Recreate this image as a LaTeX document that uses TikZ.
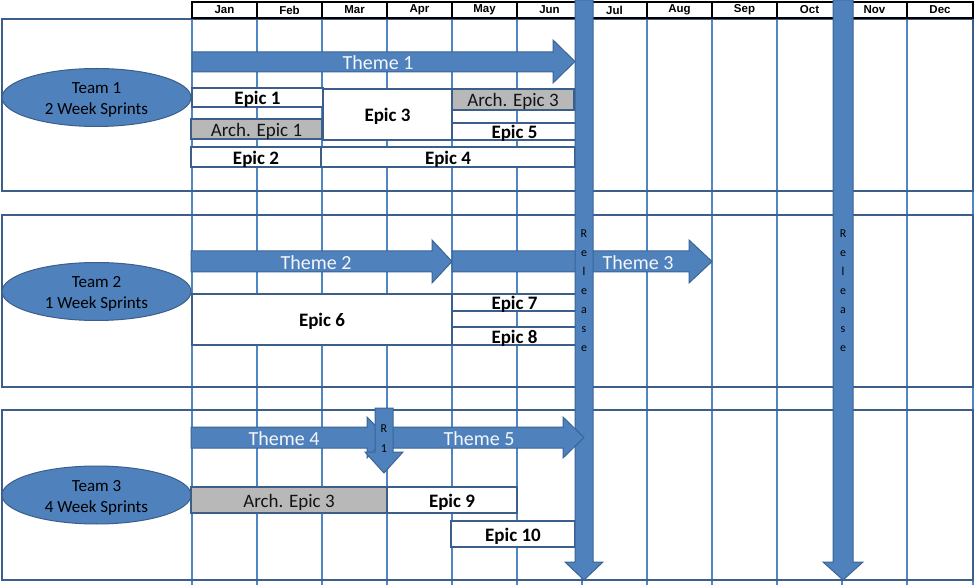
\documentclass[tikz,border=0pt]{standalone}
\usepackage{fontspec}
\setmainfont{Carlito}
\newfontfamily\hdrfont{Liberation Sans}
\usetikzlibrary{shapes.geometric}
\definecolor{fillblue}{HTML}{4F81BD}
\definecolor{arrowedge}{HTML}{3A6595}
\definecolor{frameblue}{HTML}{3B5F8A}
\definecolor{gridblue}{HTML}{4F86C6}
\definecolor{archgray}{HTML}{B8B8B8}
\definecolor{themewhite}{HTML}{F4F6FA}
\begin{document}
\begin{tikzpicture}[x=1pt,y=-1pt,
  gridline/.style={draw=gridblue, line width=1.4pt},
  teamframe/.style={draw=frameblue, line width=2pt},
  teamell/.style={ellipse, draw=frameblue, fill=fillblue, line width=1pt, minimum width=189pt, minimum height=58pt, inner sep=0pt},
  teamlbl/.style={inner sep=0pt, align=center, yshift=-2.5pt, font=\fontsize{17}{21}\selectfont},
  epicbox/.style={draw=frameblue, line width=1.8pt, fill=white},
  archbox/.style={draw=frameblue, line width=1.8pt, fill=archgray},
  epictext/.style={inner sep=0pt, yshift=-2pt, font=\fontsize{19}{20}\selectfont\bfseries},
  archtext/.style={inner sep=0pt, yshift=-2pt, text=black!92, font=\fontsize{19}{20}\selectfont},
  arrowshape/.style={fill=fillblue, draw=arrowedge, line width=1pt, line join=miter},
  themetext/.style={inner sep=0pt, yshift=-1pt, text=themewhite, font=\fontsize{20}{22}\selectfont},
  reltext/.style={inner sep=0pt, align=center, font=\fontsize{12}{19}\selectfont},
  monthbox/.style={draw=black, line width=2pt, fill=white},
  monthtext/.style={inner sep=0pt, font=\hdrfont\bfseries\fontsize{11.5}{12}\selectfont}
]
\useasboundingbox (0,0) rectangle (975,585);
\fill[white] (0,0) rectangle (975,585);

% vertical grid lines
\foreach \x in {192,257,322,387,452,517,582,647,712,777,842,907,973}
  \draw[gridline] (\x,18) -- (\x,585);

% team frames
\draw[teamframe] (2,19) rectangle (973,191);
\draw[teamframe] (2,215) rectangle (973,387);
\draw[teamframe] (2,410) rectangle (973,580);

% month header
\foreach \a/\b/\m in {192/257/Jan,257/322/Feb,322/387/Mar,387/452/Apr,452/517/May,517/582/Jun,582/647/Jul,647/712/Aug,712/777/Sep,777/842/Oct,842/907/Nov,907/973/Dec}
  \draw[monthbox] (\a,2) rectangle (\b,18) node[midway,monthtext](m\m){\m};

% team ellipses
\node[teamell, label={[teamlbl]center:Team 1\\2 Week Sprints}] (t1) at (96.5,97.5) {};
\node[teamell, label={[teamlbl]center:Team 2\\1 Week Sprints}] (t2) at (96.5,291.5) {};
\node[teamell, label={[teamlbl]center:Team 3\\4 Week Sprints}] (t3) at (96.5,495) {};

% Team 1 epics
\draw[epicbox] (192,88) rectangle (323,107) node[midway,epictext](e1){Epic 1};
\draw[epicbox] (323,89) rectangle (452,140) node[midway,epictext](e3){Epic 3};
\draw[archbox] (452,89) rectangle (574,110) node[midway,archtext](a3a){Arch. Epic 3};
\draw[archbox] (191,119) rectangle (322,139) node[midway,archtext](a1){Arch. Epic 1};
\draw[epicbox] (452,123) rectangle (577,140) node[midway,epictext](e5){Epic 5};
\draw[epicbox] (191,147) rectangle (321,167) node[midway,epictext](e2){Epic 2};
\draw[epicbox] (321,147) rectangle (575,167) node[midway,epictext](e4){Epic 4};

% Team 2 epics
\draw[epicbox] (192,294) rectangle (452,345) node[midway,epictext](e6){Epic 6};
\draw[epicbox] (452,294) rectangle (577,311) node[midway,epictext](e7){Epic 7};
\draw[epicbox] (452,327) rectangle (577,345) node[midway,epictext](e8){Epic 8};

% Team 3 epics
\draw[archbox] (191,487) rectangle (387,513) node[midway,archtext](a3b){Arch. Epic 3};
\draw[epicbox] (387,487) rectangle (517,513) node[midway,epictext](e9){Epic 9};
\draw[epicbox] (451,521) rectangle (575,547) node[midway,epictext](e10){Epic 10};

% Theme arrows 1-3
\draw[arrowshape] (192,52) -- (553,52) -- (553,40) -- (575,61.5) -- (553,83) -- (553,72) -- (192,72) -- cycle;
\node[themetext] (th1) at (378,62) {Theme 1};
\draw[arrowshape] (191,251) -- (432,251) -- (432,240) -- (452,261.5) -- (432,283) -- (432,272) -- (191,272) -- cycle;
\node[themetext] (th2) at (316,262) {Theme 2};
\draw[arrowshape] (452,251) -- (689,251) -- (689,240) -- (712,261.5) -- (689,283) -- (689,272) -- (452,272) -- cycle;

% Release arrows
\draw[arrowshape] (575,0) -- (593,0) -- (593,562) -- (603,562) -- (584,580) -- (565,562) -- (575,562) -- cycle;
\draw[arrowshape] (833,0) -- (853,0) -- (853,562) -- (863,562) -- (843,580) -- (823,562) -- (833,562) -- cycle;
\node[reltext] (rel1) at (584,291) {R\\e\\l\\e\\a\\s\\e};
\node[reltext] (rel2) at (843,291) {R\\e\\l\\e\\a\\s\\e};
\node[themetext] (th3) at (638,262) {Theme 3};

% Theme arrows 4-5 and R1
\draw[arrowshape] (191,427) -- (367,427) -- (367,417) -- (387,437.5) -- (367,458) -- (367,448) -- (191,448) -- cycle;
\node[themetext] (th4) at (284,438) {Theme 4};
\draw[arrowshape] (392,427) -- (563,427) -- (563,417) -- (584,437.5) -- (563,458) -- (563,448) -- (392,448) -- cycle;
\node[themetext] (th5) at (479,438) {Theme 5};
\draw[arrowshape] (375,408) -- (393,408) -- (393,452) -- (403,452) -- (384,473) -- (365,452) -- (375,452) -- cycle;
\node[reltext, font=\fontsize{12}{20}\selectfont] (r1) at (384,439) {R\\1};
\end{tikzpicture}
\end{document}
